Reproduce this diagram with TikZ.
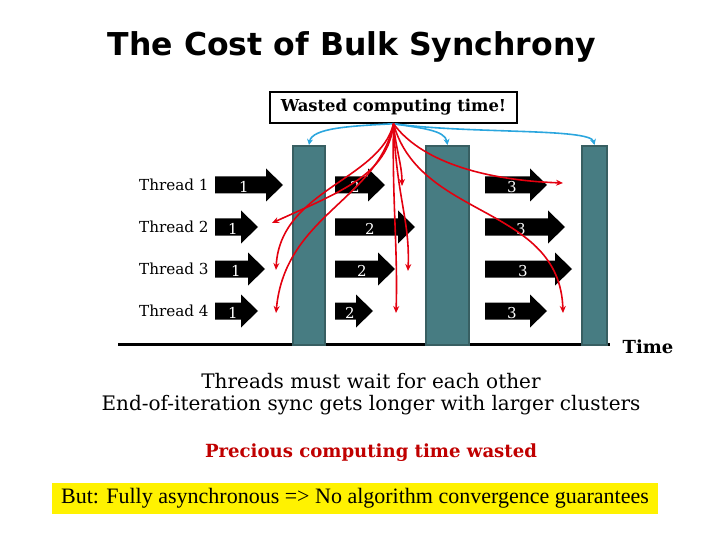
\documentclass[tikz,border=0pt]{standalone}
\usepackage{fontspec}
\setmainfont{Liberation Serif}
\newfontfamily\titlefont{DejaVu Sans}
\newfontfamily\slidefont{DejaVu Serif}
\usetikzlibrary{arrows.meta}
\definecolor{barfill}{HTML}{477C82}
\definecolor{barline}{HTML}{385F62}
\definecolor{wastered}{HTML}{E3000F}
\definecolor{syncblue}{HTML}{2BA6DE}
\definecolor{preciousred}{HTML}{C00000}
\tikzset{
  title/.style={font=\titlefont\bfseries\fontsize{31.5}{36}\selectfont},
  thread/.style={anchor=west, font=\slidefont\fontsize{15.2}{18}\selectfont, inner sep=0pt},
  num/.style={text=white, font=\slidefont\fontsize{15}{18}\selectfont, inner sep=0pt},
  bar/.style={fill=barfill, draw=barline, line width=2pt, inner sep=0pt},
  waste/.style={wastered, line width=1.6pt, -{Stealth[length=7pt,width=6pt]}},
  sync/.style={syncblue, line width=1.6pt, -{Stealth[length=6pt,width=6pt]}},
  body/.style={font=\slidefont\fontsize{20}{24}\selectfont, inner sep=0pt}
}
\begin{document}
\begin{tikzpicture}[x=1pt, y=-1pt]
  \useasboundingbox (0,0) rectangle (720,540);

  % Title
  \node[title] (title) at (352,47) {The Cost of Bulk Synchrony};

  % Time axis
  \draw[line width=3pt] (118,344) -- (610,344);
  \node[font=\slidefont\bfseries\fontsize{18}{21}\selectfont] (time) at (648,347) {Time};

  % Barriers
  \node[bar, minimum width=32, minimum height=199] (bar1) at (309,245.5) {};
  \node[bar, minimum width=43, minimum height=199] (bar2) at (447.5,245.5) {};
  \node[bar, minimum width=25, minimum height=199] (bar3) at (594.5,245.5) {};

  % Thread labels
  \foreach \i/\yy in {1/185, 2/227, 3/269, 4/311}
    \node[thread] (thread\i) at (139,\yy) {Thread \i};

  % Work blocks: start / tip / label x / iteration / row
  \foreach \s/\t/\lx/\n/\yy [count=\k] in {
      215/283/244/1/185, 335/385/355/2/185, 485/547/512/3/185,
      215/258/233/1/227, 335/415/370/2/227, 485/565/521/3/227,
      215/265/236/1/269, 335/395/362/2/269, 485/572/523/3/269,
      215/258/233/1/311, 335/373/350/2/311, 485/547/512/3/311} {
    \fill (\s,\yy-8.5) -- (\t-17,\yy-8.5) -- (\t-17,\yy-16.5) -- (\t,\yy)
      -- (\t-17,\yy+16.5) -- (\t-17,\yy+8.5) -- (\s,\yy+8.5) -- cycle;
    \node[num] (work\k) at (\lx,\yy+2) {\n};
  }

  % Callout
  \node[draw, line width=1.5pt, minimum width=247, minimum height=31, inner sep=0pt,
        font=\slidefont\bfseries\fontsize{16.4}{20}\selectfont] (wasted) at (393.5,107.5) {Wasted computing time!};

  % Idle ends
  \coordinate (idle1) at (272,223);
  \coordinate (idle2) at (276,270);
  \coordinate (idle3) at (276,313);
  \coordinate (idle4) at (396,313);
  \coordinate (idle5) at (408,271);
  \coordinate (idle6) at (402,186);
  \coordinate (idle7) at (563,183);
  \coordinate (idle8) at (563,313);

  % Blue pointers to the barriers
  \draw[sync] (wasted.south) .. controls (350,126) and (312,128) .. (bar1.north);
  \draw[sync] (wasted.south) .. controls (420,128) and (445,130) .. (bar2.north);
  \draw[sync] (wasted.south) .. controls (470,134) and (590,128) .. (bar3.north);

  % Red pointers to idle time
  \draw[waste] (wasted.south) .. controls (388,175) and (340,192) .. (idle1);
  \draw[waste] (wasted.south) .. controls (380,180) and (280,190) .. (idle2);
  \draw[waste] (wasted.south) .. controls (378,200) and (285,215) .. (idle3);
  \draw[waste] (wasted.south) .. controls (392,200) and (398,250) .. (idle4);
  \draw[waste] (wasted.south) .. controls (397,200) and (410,220) .. (idle5);
  \draw[waste] (wasted.south) .. controls (396,150) and (402,165) .. (idle6);
  \draw[waste] (wasted.south) .. controls (420,160) and (480,180) .. (idle7);
  \draw[waste] (wasted.south) .. controls (420,220) and (560,205) .. (idle8);

  % Bottom text
  \node[body] (wait) at (371,381) {Threads must wait for each other};
  \node[body] (longer) at (371,405) {End-of-iteration sync gets longer with larger clusters};
  \node[body, font=\slidefont\bfseries\fontsize{18.1}{22}\selectfont, text=preciousred] (precious) at (371,453) {Precious computing time wasted};
  \node[fill=yellow, minimum width=606, minimum height=31, inner sep=0pt,
        font=\fontsize{22}{25}\selectfont] (but) at (355,498.5)
        {But: Fully asynchronous => No algorithm convergence guarantees};
\end{tikzpicture}
\end{document}
